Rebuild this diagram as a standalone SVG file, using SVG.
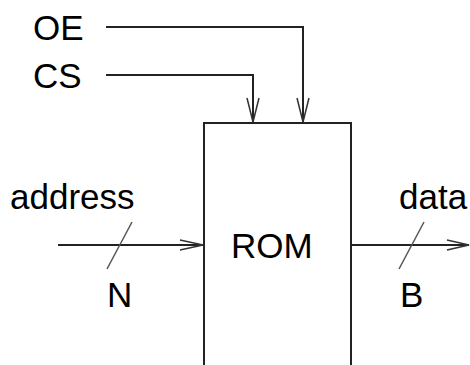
<svg xmlns="http://www.w3.org/2000/svg" width="470" height="365" viewBox="0 0 470 365">
<style>
text{font-family:"Liberation Sans",Arial,sans-serif;font-size:35px;fill:#000}
.w{fill:none;stroke:#222;stroke-width:2}
.ah{fill:none;stroke:#333;stroke-width:1.5}
.sl{fill:none;stroke:#555;stroke-width:1.5}
</style>
<rect width="470" height="365" fill="#fff"/>
<g id="rom">
<path class="w" d="M204,365 V123 H351 V365"/>
<text x="231" y="258">ROM</text>
</g>
<g id="oe"><text x="33" y="40">OE</text></g>
<g id="cs"><text x="33" y="88">CS</text></g>
<g id="address"><text x="10" y="209">address</text><text x="107" y="307">N</text></g>
<g id="data"><text x="399" y="209">data</text><text x="400" y="307">B</text></g>
<g id="connectors">
<path class="w" d="M106,27 H303 V123"/>
<path class="w" d="M106,75 H253 V123"/>
<path class="ah" d="M247,98 L253,122 L259,98 M297,98 L303,122 L309,98"/>
<path class="w" d="M58,245 H204"/>
<path class="ah" d="M180,240 L203,245 L180,250"/>
<path class="sl" d="M132,222 L107,269"/>
<path class="w" d="M351,245 H469"/>
<path class="ah" d="M447,240 L469,245 L447,250"/>
<path class="sl" d="M424,222 L399,269"/>
</g>
</svg>
